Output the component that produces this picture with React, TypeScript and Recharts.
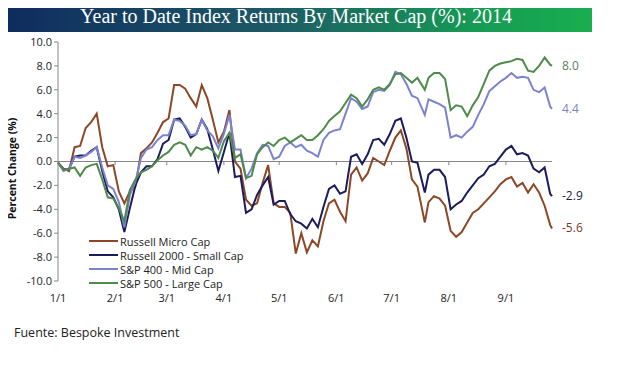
import { LineChart, Line, XAxis, YAxis, ReferenceLine, LabelList, Legend, Label } from 'recharts';

// calendar day offset from 1/1/2014
const days = [
  0, 3, 6, 9, 12, 15, 18, 21, 24, 27, 30, 33, 36, 39, 42, 45, 48, 51, 54, 57,
  60, 63, 66, 69, 72, 75, 78, 81, 84, 87, 90, 93, 96, 99, 102, 105, 108, 111, 114, 117,
  120, 123, 126, 129, 132, 135, 138, 141, 144, 147, 150, 153, 156, 159, 162, 165, 168, 171, 174, 177,
  180, 183, 186, 189, 192, 195, 199, 201, 204, 207, 210, 213, 216, 219, 222, 225, 228, 231, 234, 237,
  240, 243, 246, 249, 252, 255, 258, 261, 264, 267, 268,
];

const microCap = [
  -0.1, -0.6, -0.8, 1.2, 1.3, 2.8, 3.3, 4.0, 1.2, -0.4, -0.3, -2.5, -3.5, -2.5, -2.1, 0.7, 1.1, 1.6, 2.4, 3.3,
  3.6, 6.4, 6.4, 6.1, 5.3, 4.6, 6.4, 5.3, 3.5, 1.6, 2.5, 4.3, 0.0, -0.6, -3.2, -3.7, -3.5, -1.8, -0.3, -3.5,
  -3.8, -3.8, -4.3, -7.7, -6.0, -7.6, -6.6, -7.1, -5.0, -3.5, -3.2, -4.2, -5.0, -1.1, -0.5, -1.6, -1.0, 0.3, 0.0, -0.3,
  0.9, 2.0, 2.6, 1.1, -1.5, -2.1, -5.1, -3.4, -2.9, -3.1, -3.7, -5.8, -6.3, -5.9, -5.1, -4.3, -4.0, -3.5, -3.0, -2.5,
  -1.9, -1.5, -1.3, -2.1, -1.8, -2.6, -1.9, -2.6, -3.7, -5.3, -5.6,
];

const smallCap = [
  -0.1, -0.7, -0.6, 0.4, 0.5, 0.5, 0.9, 1.2, -0.8, -2.5, -3.0, -4.0, -5.9, -3.9, -2.0, -0.9, -0.4, -0.4, 0.2, 1.5,
  1.8, 3.5, 3.6, 2.9, 2.0, 2.3, 3.5, 2.7, 1.0, -0.8, 0.8, 2.4, -1.3, -1.2, -4.3, -4.0, -2.8, -2.0, -1.3, -3.6,
  -3.3, -3.3, -4.4, -5.0, -5.2, -5.6, -4.8, -5.5, -3.8, -2.3, -2.0, -2.7, -2.5, 0.4, 0.6, -0.2, 0.6, 1.8, 1.9, 1.4,
  2.3, 3.4, 3.6, 2.0, 0.0, -0.1, -2.6, -1.1, -0.7, -0.7, -1.3, -4.0, -3.6, -3.3, -2.6, -2.0, -1.4, -1.1, -0.4, -0.2,
  0.4, 1.0, 1.3, 0.6, 0.7, 0.5, -0.6, -0.9, -0.5, -2.7, -2.9,
];

const midCap = [
  -0.1, -0.8, -0.6, 0.4, 0.3, 0.5, 0.8, 1.2, -0.5, -2.0, -2.3, -3.4, -5.5, -2.8, -1.7, 0.3, 1.0, 1.2, 1.8, 2.2,
  2.2, 3.5, 3.4, 3.0, 2.2, 2.3, 3.5, 2.6, 2.1, 1.1, 2.3, 3.9, 1.0, 1.0, -1.4, -0.6, 0.7, 1.4, 1.3, 0.2,
  0.4, 1.3, 1.6, 1.2, 1.4, 0.9, 0.7, 0.4, 1.8, 2.4, 2.6, 2.7, 4.0, 5.3, 5.0, 4.4, 4.6, 5.8, 6.0, 5.9,
  6.4, 7.5, 7.3, 6.5, 5.5, 5.3, 3.9, 5.2, 5.0, 4.8, 4.5, 2.0, 2.2, 2.0, 2.5, 2.9, 3.9, 4.8, 5.9, 6.3,
  6.7, 7.0, 7.4, 7.0, 7.1, 7.0, 6.0, 5.8, 6.2, 4.6, 4.4,
];

const largeCap = [
  -0.1, -0.7, -0.6, -0.5, -1.2, -0.5, -0.3, -0.2, -1.5, -3.0, -3.1, -3.9, -5.0, -2.4, -1.5, -0.9, -0.7, -0.4, 0.1, 0.5,
  0.8, 1.4, 1.6, 1.4, 0.5, 1.2, 1.0, 1.2, 0.9, 0.3, 1.7, 2.4, 0.3, 0.6, -1.4, -1.2, 0.6, 1.2, 1.6, 1.3,
  1.8, 2.0, 1.6, 1.9, 2.2, 1.8, 1.8, 2.2, 2.7, 3.4, 3.8, 4.2, 4.9, 5.6, 5.3, 4.6, 5.2, 6.0, 6.2, 6.0,
  6.5, 7.3, 7.4, 7.0, 6.6, 7.0, 6.0, 7.0, 7.4, 7.4, 6.9, 4.3, 4.7, 4.6, 3.8, 4.7, 5.4, 6.5, 7.6, 8.0,
  8.2, 8.3, 8.4, 8.6, 8.5, 7.6, 7.5, 8.0, 8.7, 8.1, 8.0,
];

const monthTicks = [0, 31, 59, 90, 120, 151, 181, 212, 243];
const monthLabels = ['1/1', '2/1', '3/1', '4/1', '5/1', '6/1', '7/1', '8/1', '9/1'];
const yTicks = [-10, -8, -6, -4, -2, 0, 2, 4, 6, 8, 10];

const series = [
  { key: 'micro', name: 'Russell Micro Cap', color: '#8b4726', labelColor: '#7a3a1e' },
  { key: 'small', name: 'Russell 2000 - Small Cap', color: '#1b1b5e', labelColor: '#1b1b4e' },
  { key: 'mid', name: 'S&P 400 - Mid Cap', color: '#7b82cf', labelColor: '#7b82c0' },
  { key: 'large', name: 'S&P 500 - Large Cap', color: '#4f8a4b', labelColor: '#5b7d5b' },
];

const data = days.map((d, i) => ({
  d,
  micro: microCap[i],
  small: smallCap[i],
  mid: midCap[i],
  large: largeCap[i],
}));

const FONT = '"Open Sans", sans-serif';
const AXIS = '#868686';

const renderLegend = () => (
  <div style={{ fontFamily: FONT, fontSize: 11, color: '#222', lineHeight: '13px' }}>
    {series.map(s => (
      <div key={s.key} style={{ display: 'flex', alignItems: 'center', height: 14 }}>
        <span style={{ display: 'inline-block', width: 29, height: 2, background: s.color, marginRight: 2 }} />
        <span>{s.name}</span>
      </div>
    ))}
  </div>
);

const endLabel = (color: string) => (props: any) => {
  const { x, y, index, value } = props;
  if (index !== data.length - 1) return null;
  return (
    <text x={x + 10} y={y + 4} fill={color} fontSize={12} fontFamily={FONT}>
      {Number(value).toFixed(1)}
    </text>
  );
};

const yLabel = (props: any) => {
  const vb = props.viewBox;
  const cx = vb.x + 12;
  const cy = vb.y + vb.height / 2 + 7;
  return (
    <text
      x={cx}
      y={cy}
      transform={`rotate(-90 ${cx} ${cy})`}
      textAnchor="middle"
      dominantBaseline="central"
      fontFamily={FONT}
      fontSize={10.5}
      fontWeight="bold"
      fill="#111"
    >
      Percent Change (%)
    </text>
  );
};

export default function App() {
  return (
    <div style={{ position: 'relative', width: 637, height: 365, margin: -8, background: '#fff', overflow: 'hidden' }}>
      <div
        style={{
          position: 'absolute',
          left: 0,
          top: 0,
          width: 592,
          height: 32,
          background: 'linear-gradient(90deg, #0e2b5e 0%, #1d5866 45%, #169a55 80%, #19ae4f 100%)',
          color: '#fff',
          fontFamily: '"Liberation Serif", serif',
          fontSize: 20,
          lineHeight: '32px',
          textAlign: 'center',
        }}
      >
        Year to Date Index Returns By Market Cap (%): 2014
      </div>
      <div style={{ position: 'absolute', left: 0, top: 0 }}>
        <LineChart width={637} height={365} data={data} margin={{ top: 42, right: 85, bottom: 64, left: 0 }}>
          <XAxis
            dataKey="d"
            type="number"
            domain={[0, 268]}
            ticks={monthTicks}
            tickFormatter={(v: number) => monthLabels[monthTicks.indexOf(v)]}
            axisLine={false}
            tickLine={false}
            tickSize={0}
            tickMargin={13}
            height={20}
            tick={{ fill: '#222', fontSize: 11, fontFamily: FONT }}
          />
          <YAxis
            domain={[-10, 10]}
            ticks={yTicks}
            tickFormatter={(v: number) => v.toFixed(1)}
            width={58}
            stroke={AXIS}
            tickSize={4}
            tickMargin={2}
            tick={{ fill: '#222', fontSize: 11, fontFamily: FONT }}
            label={<Label content={yLabel} />}
          />
          <ReferenceLine y={0} stroke={AXIS} strokeWidth={1} />
          {monthTicks.slice(1).map(t => (
            <ReferenceLine key={t} segment={[{ x: t, y: 0 }, { x: t, y: -0.3 }]} stroke={AXIS} />
          ))}
          <Legend
            layout="vertical"
            align="center"
            verticalAlign="middle"
            content={renderLegend}
            wrapperStyle={{ position: 'absolute', left: 89, top: 234, width: 200 }}
          />
          {series.map(s => (
            <Line
              key={s.key}
              type="linear"
              dataKey={s.key}
              name={s.name}
              stroke={s.color}
              strokeWidth={2}
              dot={false}
              isAnimationActive={false}
            >
              <LabelList dataKey={s.key} content={endLabel(s.labelColor)} />
            </Line>
          ))}
        </LineChart>
      </div>
      <div
        style={{
          position: 'absolute',
          left: 14,
          top: 324,
          fontFamily: FONT,
          fontSize: 12.5,
          color: '#222',
        }}
      >
        Fuente: Bespoke Investment
      </div>
    </div>
  );
}
